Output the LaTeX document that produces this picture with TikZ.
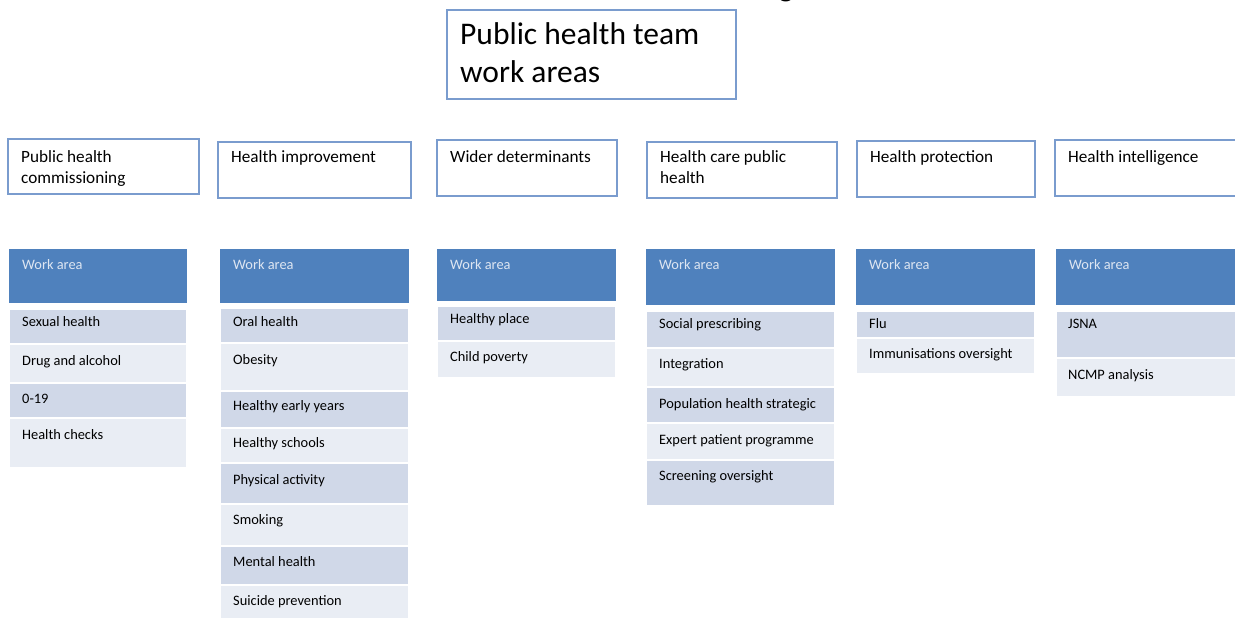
\documentclass[tikz,border=0pt]{standalone}
\usepackage{fontspec}
\setmainfont{Carlito}
\definecolor{boxline}{RGB}{122,156,206}
\definecolor{headfill}{RGB}{79,129,189}
\definecolor{headtext}{RGB}{222,230,242}
\definecolor{rowdark}{RGB}{208,216,232}
\definecolor{rowlight}{RGB}{233,237,244}

\begin{document}
\begin{tikzpicture}[x=1pt,y=-1pt,
  box/.style={draw=boxline,line width=1.2pt,fill=white},
  titletext/.style={anchor=base west,inner sep=0pt,align=left,font=\fontsize{31.5}{37}\selectfont},
  areatext/.style={anchor=base west,inner sep=0pt,align=left,font=\fontsize{17.2}{21}\selectfont},
  celltext/.style={anchor=base west,inner sep=0pt,font=\fontsize{14.4}{17}\selectfont},
  dark/.style={fill=rowdark,draw=white,line width=1.5pt},
  light/.style={fill=rowlight,draw=white,line width=1.5pt}]
  \useasboundingbox (0,0) rectangle (1235,618);

  % line above, cut off by the page
  \node[anchor=base,inner sep=0pt,font=\fontsize{31.5}{37}\selectfont] (cutg) at (786,-3) {g};

  % title (base anchor sits on the last line)
  \draw[box] (447,10) rectangle (736,99);
  \node[titletext] (title) at (460,82) {Public health team\\work areas};

  % the six work areas
  \foreach \xa/\ya/\xb/\yb/\b/\name/\txt in {
      8/139/199/194/183/pubcom/{Public health\\commissioning},
      218/142/411/198/162/improve/{Health improvement},
      437/140/617/196/162/wider/{Wider determinants},
      647/142/837/198/183/hcare/{Health care public\\health},
      857/141/1035/197/162/protect/{Health protection},
      1055/140/1245/196/162/intel/{Health intelligence}} {
    \draw[box] (\xa,\ya) rectangle (\xb,\yb);
    \node[areatext] (\name) at (\xa+13,\b) {\txt};
  }

  % table heads
  \foreach \xa/\xb/\yb [count=\i] in {9/187/303,220/409/303,437/616/301,
      646/835/305,856/1035/305,1056/1245/305} {
    \fill[headfill] (\xa,249) rectangle (\xb,\yb);
    \node[celltext,text=headtext] (wa\i) at (\xa+13,269) {Work area};
  }

  % public health commissioning
  \foreach \ya/\yb/\b/\shade/\lbl [count=\i] in {
      309/344/326/dark/Sexual health,
      344/383/365/light/Drug and alcohol,
      383/418/403/dark/0-19,
      418/468/439/light/Health checks} {
    \draw[\shade] (9,\ya) rectangle (187,\yb);
    \node[celltext] (pc\i) at (22,\b) {\lbl};
  }

  % health improvement
  \foreach \ya/\yb/\b/\shade/\lbl [count=\i] in {
      308/343/326/dark/Oral health,
      343/391/364/light/Obesity,
      391/428/410/dark/Healthy early years,
      428/463/447/light/Healthy schools,
      463/504/484/dark/Physical activity,
      504/546/524/light/Smoking,
      546/585/566/dark/Mental health,
      585/625/605/light/Suicide prevention} {
    \draw[\shade] (220,\ya) rectangle (409,\yb);
    \node[celltext] (hi\i) at (233,\b) {\lbl};
  }

  % wider determinants
  \foreach \ya/\yb/\b/\shade/\lbl [count=\i] in {
      306/341/323/dark/Healthy place,
      341/378/361/light/Child poverty} {
    \draw[\shade] (437,\ya) rectangle (616,\yb);
    \node[celltext] (wd\i) at (450,\b) {\lbl};
  }

  % health care public health
  \foreach \ya/\yb/\b/\shade/\lbl [count=\i] in {
      311/348/328/dark/Social prescribing,
      348/387/368/light/Integration,
      387/423/408/dark/Population health strategic,
      423/460/444/light/Expert patient programme,
      460/506/480/dark/Screening oversight} {
    \draw[\shade] (646,\ya) rectangle (835,\yb);
    \node[celltext] (hc\i) at (659,\b) {\lbl};
  }

  % health protection
  \foreach \ya/\yb/\b/\shade/\lbl [count=\i] in {
      311/338/328/dark/Flu,
      338/374/358/light/Immunisations oversight} {
    \draw[\shade] (856,\ya) rectangle (1035,\yb);
    \node[celltext] (hp\i) at (869,\b) {\lbl};
  }

  % health intelligence
  \foreach \ya/\yb/\b/\shade/\lbl [count=\i] in {
      311/358/328/dark/JSNA,
      358/397/379/light/NCMP analysis} {
    \draw[\shade] (1056,\ya) rectangle (1245,\yb);
    \node[celltext] (in\i) at (1068,\b) {\lbl};
  }
\end{tikzpicture}
\end{document}
